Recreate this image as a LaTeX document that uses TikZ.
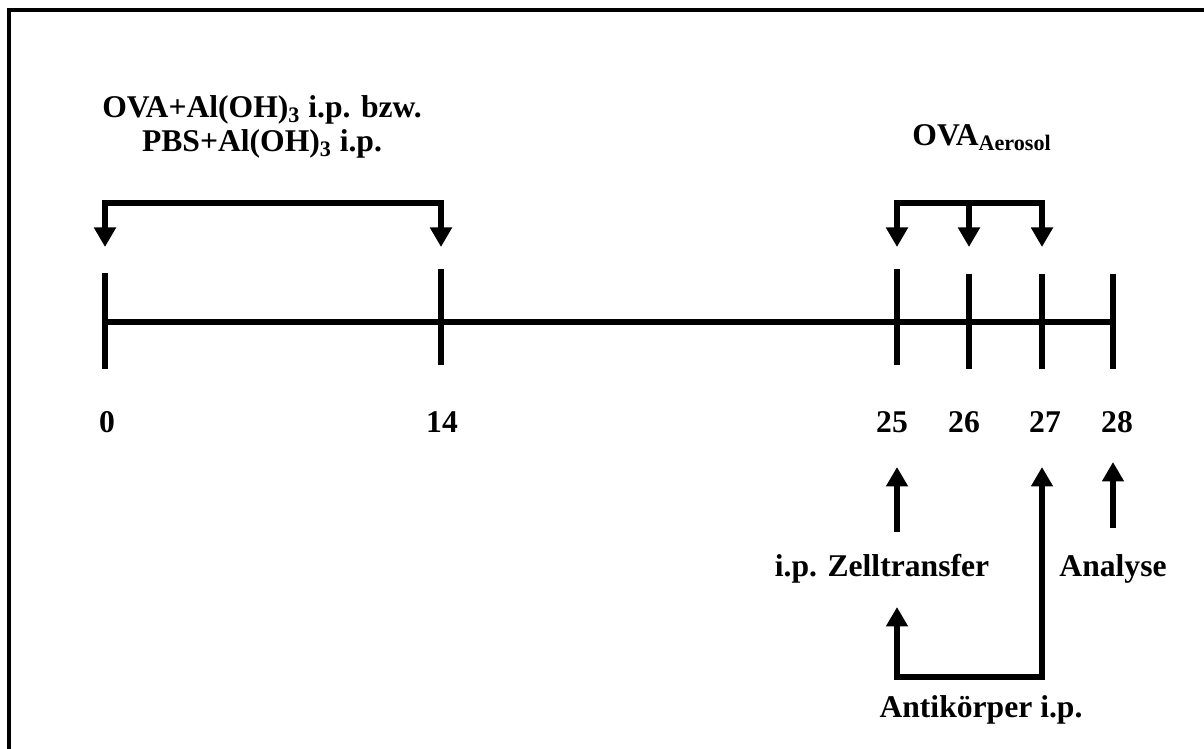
\documentclass[tikz,border=0pt]{standalone}
\usepackage{fontspec}
\setmainfont{Liberation Serif}
\usetikzlibrary{arrows.meta,calc}
\begin{document}
\begin{tikzpicture}[x=0.02cm, y=-0.02cm,
    bar/.style={line width=3.8pt},
    tri/.tip={Triangle[width=0.42cm, length=0.39cm]},
    lbl/.style={font=\fontsize{18}{19.5}\selectfont\bfseries, inner sep=0pt, align=center}]
  \useasboundingbox (0,0) rectangle (1204,749);
  % frame: only the upper and left edges fall inside the page
  \draw[line width=2.8pt] (9,770) -- (9,10) -- (1230,10);
  % time line with day ticks
  \foreach \d/\x/\t/\b in {0/105/273/369, 14/441/269/365, 25/897/269/365, 26/969/274/369, 27/1042/274/369, 28/1113/274/369} {
    \coordinate (d\d) at (\x,322);
    \draw[bar] (\x,\t) -- (\x,\b);
  }
  \draw[bar] (d0) -- (d28);
  \foreach \d/\x in {0/107, 14/442, 25/892, 26/964, 27/1045, 28/1117}
    \node[lbl, anchor=base] (n\d) at (\x,433) {\d};
  % sensitisation
  \node[lbl] (sens) at (262,127) {OVA+Al(OH)\textsubscript{3} i.p. bzw.\\PBS+Al(OH)\textsubscript{3} i.p.};
  \coordinate (s0) at (105,203);
  \coordinate (s14) at (441,203);
  \draw[bar, tri-tri] ($(s0)+(0,44)$) -- (s0) -- (s14) -- ($(s14)+(0,44)$);
  % aerosol challenge
  \node[lbl, anchor=base] (aero) at (982,146) {OVA\textsubscript{Aerosol}};
  \coordinate (s25) at (897,203);
  \coordinate (s26) at (969,203);
  \coordinate (s27) at (1042,203);
  \draw[bar, tri-tri] ($(s25)+(0,44)$) -- (s25) -- (s27) -- ($(s27)+(0,44)$);
  \draw[bar, -tri] (s26) -- ++(0,44);
  % transfer, antibody and analysis
  \node[lbl, anchor=base] (zell) at (882,577) {i.p. Zelltransfer};
  \node[lbl, anchor=base] (ana) at (1113,577) {Analyse};
  \node[lbl, anchor=base] (anti) at (981,717) {Antikörper i.p.};
  \coordinate (u25) at (897,532);
  \coordinate (u28) at (1113,528);
  \draw[bar, -tri] (u25) -- ++(0,-65);
  \draw[bar, -tri] (u28) -- ++(0,-66);
  \coordinate (akl) at (897,677);
  \coordinate (akr) at (1042,677);
  \draw[bar, tri-tri] ($(akl)+(0,-70)$) -- (akl) -- (akr) -- ($(akr)+(0,-210)$);
\end{tikzpicture}
\end{document}
